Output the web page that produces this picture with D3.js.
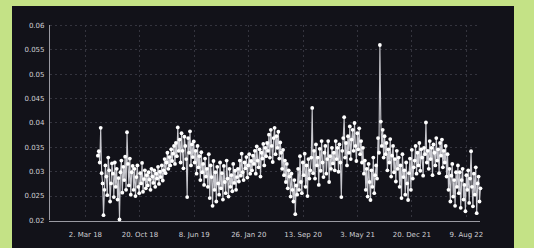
<!DOCTYPE html>
<html lang="en">
    <head>
        <meta charset="utf-8">
        <style>
        body { margin:0; background:#c4e286; }
        text { font-family: "DejaVu Sans", sans-serif; }
        </style>
        <script src="https://d3js.org/d3.v7.min.js"></script>
    </head>
    <body>
    <script>
    var width = 534,
        height = 248;

    // series: one reading every 4 days from 26 Apr 2018
    var seriesStart = "2018-04-26";
    var stepDays = 4;
    var values = [
        .0332,.0341,.0318,.0389,.0296,.0275,.0210,.0262,
        .0312,.0289,.0251,.0328,.0302,.0238,.0275,.0316,
        .0295,.0247,.0318,.0268,.0305,.0242,.0286,.0201,
        .0298,.0322,.0256,.0309,.0282,.0330,.0262,.0380,
        .0315,.0271,.0326,.0252,.0298,.0311,
        .0262,.0305,.0249,.0288,.0312,.0268,.0255,.0296,.0275,.0317,.0258,.0284,.0302,.0265,.0292,
        .0271,.0298,.0283,.0262,.0305,.0289,.0276,.0302,.0268,.0295,.0285,.0309,.0274,.0299,.0288,.0312,.0281,
        .0302,.0325,.0296,.0318,.0338,.0305,.0329,.0312,.0345,.0321,.0336,.0352,.0315,.0358,.0331,.0390,.0342,
        .0365,.0318,.0378,.0342,.0306,.0371,.0352,.0325,.0247,.0368,.0338,.0382,.0312,.0355,.0329,
        .0361,.0318,.0342,.0295,.0352,.0308,.0331,.0282,.0339,.0298,.0315,.0272,.0326,.0289,.0305,
        .0268,.0335,.0245,.0312,.0288,.0229,.0321,.0262,.0298,.0238,.0309,.0275,.0252,.0318,
        .0265,.0296,.0242,.0311,.0278,.0255,.0322,.0285,.0248,.0305,.0268,.0292,.0259,.0315,.0276,.0301,.0262,.0288,
        .0305,.0279,.0322,.0291,.0336,.0298,.0282,.0318,.0306,.0329,.0287,.0312,.0335,.0295,.0321,.0302,.0332,
        .0315,.0342,.0295,.0351,.0322,.0308,.0345,.0289,.0338,.0326,.0356,.0312,.0348,.0331,.0358,
        .0342,.0375,.0328,.0385,.0352,.0319,.0368,.0389,.0335,.0372,.0348,.0381,.0326,.0359,
        .0338,.0305,.0344,.0292,.0322,.0278,.0315,.0265,.0302,.0289,.0248,.0295,.0262,.0238,.0282,.0212,.0271,.0252,
        .0305,.0262,.0331,.0278,.0255,.0318,.0292,.0336,.0268,.0312,.0249,.0325,.0285,.0302,.0328,.0430,.0296,
        .0342,.0285,.0355,.0312,.0328,.0272,.0346,.0301,.0362,.0318,.0288,.0338,.0352,.0295,.0325,.0362,.0278,.0331,.0305,.0348,.0316,
        .0338,.0302,.0362,.0325,.0348,.0299,.0355,.0318,.0247,.0342,.0368,.0411,.0328,.0358,.0312,
        .0372,.0338,.0392,.0325,.0365,.0385,.0342,.0399,.0352,.0321,.0378,.0345,.0388,.0335,.0362,.0318,.0348,
        .0295,.0322,.0262,.0305,.0248,.0315,.0278,.0241,.0302,.0268,.0328,.0255,.0292,.0312,.0285,
        .0368,.0338,.0559,.0402,.0352,.0385,.0328,
        .0372,.0335,.0358,.0302,.0345,.0318,.0366,.0289,.0332,.0352,.0298,.0325,.0279,.0342,.0305,
        .0328,.0268,.0312,.0245,.0335,.0288,.0302,.0252,.0318,.0275,.0241,.0296,.0326,.0262,.0344,.0285,.0308,
        .0322,.0352,.0295,.0338,.0312,.0358,.0301,.0345,.0328,.0291,.0348,.0335,.0400,.0318,.0342,
        .0305,.0362,.0325,.0348,.0292,.0355,.0338,.0312,.0368,.0322,.0345,.0296,.0358,.0332,.0365,.0308,.0342,.0318,.0352,.0289,.0335,
        .0262,.0305,.0238,.0291,.0315,.0248,.0282,.0229,.0298,.0268,.0312,
        .0255,.0298,.0225,.0282,.0305,.0242,.0272,.0218,.0292,.0262,.0302,.0235,.0285,.0341,.0268,.0228,.0295,.0252,.0308,.0214,.0275,.0289,.0238,.0265
    ];
    var xTickDates = ["2018-03-02", "2018-10-20", "2019-06-08", "2020-01-26",
                      "2020-09-13", "2021-05-03", "2021-12-20", "2022-08-09"];
    var yTicks = [0.02, 0.025, 0.03, 0.035, 0.04, 0.045, 0.05, 0.055, 0.06];
    var xDomain = ["2017-09-30", "2022-10-08"];

    var parse = d3.utcParse("%Y-%m-%d");
    var t0 = parse(seriesStart);
    var data = values.map(function(v, i) {
        return { date: d3.utcDay.offset(t0, i * stepDays), value: v };
    });

    var svg = d3.select("body").append("svg")
        .attr("width", width)
        .attr("height", height)
        .style("display", "block");

    // dark panel inside the green frame
    svg.append("rect")
        .attr("x", 12).attr("y", 6)
        .attr("width", 502).attr("height", 250)
        .attr("fill", "#121219");

    var x = d3.scaleUtc()
        .domain(xDomain.map(parse))
        .range([49, 480]);

    var y = d3.scaleLinear()
        .domain([0.02, 0.06])
        .range([220, 25]);

    // grid
    var grid = svg.append("g").attr("class", "grid");
    grid.selectAll(".hgrid")
        .data(yTicks.slice(1))
        .enter().append("line")
        .attr("class", "hgrid")
        .attr("x1", 50).attr("x2", 478)
        .attr("y1", function(d) { return Math.round(y(d)) + 0.5; })
        .attr("y2", function(d) { return Math.round(y(d)) + 0.5; })
        .attr("stroke", "#34343e")
        .attr("stroke-dasharray", "2,3");
    grid.selectAll(".vgrid")
        .data(xTickDates.map(parse))
        .enter().append("line")
        .attr("class", "vgrid")
        .attr("y1", 25).attr("y2", 220)
        .attr("x1", function(d) { return Math.round(x(d)) + 0.5; })
        .attr("x2", function(d) { return Math.round(x(d)) + 0.5; })
        .attr("stroke", "#34343e")
        .attr("stroke-dasharray", "2,3");

    // axes
    var yAxis = svg.append("g")
        .attr("transform", "translate(49.5,0)")
        .call(d3.axisLeft(y)
            .tickValues(yTicks)
            .tickSize(0)
            .tickPadding(5)
            .tickFormat(function(d) { return String(+d.toFixed(3)); }));
    yAxis.select(".domain").attr("stroke", "#9a9aa2").attr("d", "M0,25V220");
    yAxis.selectAll("text").attr("fill", "#cfcfd4").style("font-size", "7px");

    var xAxis = svg.append("g")
        .attr("transform", "translate(0,221.5)")
        .call(d3.axisBottom(x)
            .tickValues(xTickDates.map(parse))
            .tickSize(0)
            .tickPadding(11)
            .tickFormat(d3.utcFormat("%-d. %b %y")));
    xAxis.select(".domain").attr("stroke", "#9a9aa2").attr("d", "M49,0H480");
    xAxis.selectAll("text").attr("fill", "#cfcfd4").style("font-size", "7px");

    // series
    var line = d3.line()
        .x(function(d) { return x(d.date); })
        .y(function(d) { return y(d.value); });

    svg.append("path")
        .datum(data)
        .attr("fill", "none")
        .attr("stroke", "#c8c8ce")
        .attr("stroke-width", 1.1)
        .attr("d", line);

    svg.append("g")
        .selectAll("circle")
        .data(data)
        .enter().append("circle")
        .attr("cx", function(d) { return x(d.date); })
        .attr("cy", function(d) { return y(d.value); })
        .attr("r", 1.9)
        .attr("fill", "#ffffff");
    </script>
    </body>
</html>
